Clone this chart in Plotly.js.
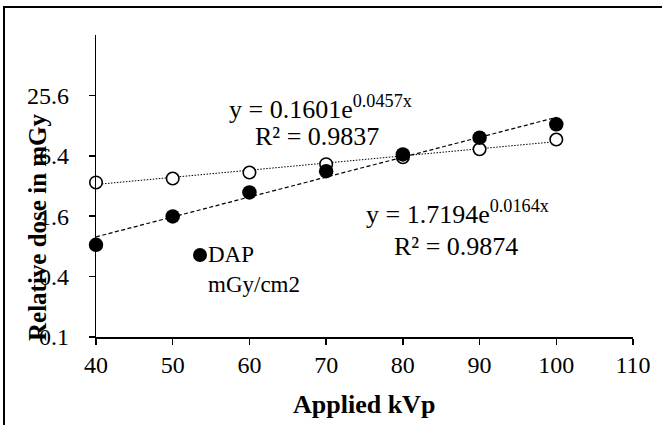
<!DOCTYPE html>
<html>
<head>
<meta charset="utf-8">
<script src="https://cdn.plot.ly/plotly-3.0.1.min.js"></script>
<style>
  html, body { margin: 0; padding: 0; background: #fff; overflow: hidden; }
  #frame { position: absolute; left: 3px; top: 6px; width: 720px; height: 480px;
           border-left: 2px solid #000; border-top: 2px solid #000; }
  #chart { position: absolute; left: 0; top: 0; width: 662px; height: 425px; }
</style>
</head>
<body>
<div id="frame"></div>
<div id="chart"></div>
<script>
// ---- data ----
const kvp = [40, 50, 60, 70, 80, 90, 100];
const dapValues = [0.83, 1.59, 2.76, 4.5, 6.6, 9.7, 13.2];      // filled circles
const otherValues = [3.47, 3.8, 4.36, 5.28, 6.2, 7.44, 9.3];    // open circles
const yTickVals = [0.1, 0.4, 1.6, 6.4, 25.6];
const yTickText = ['0.1', '0.4', '1.6', '6.4', '25.6'];
const xTickVals = [40, 50, 60, 70, 80, 90, 100, 110];
// exponential trendline coefficients printed on the chart: y = a * e^(b x)
const trendA = [0.1601, 1.7194];   // [DAP, open series]
const trendB = [0.0457, 0.0164];
const trendR2 = ['0.9837', '0.9874'];

const FONT = 'Liberation Serif, Times New Roman, serif';

function trendY(i) { return kvp.map(x => trendA[i] * Math.exp(trendB[i] * x)); }

const traces = [
  { x: kvp, y: trendY(1), mode: 'lines', showlegend: false, hoverinfo: 'skip',
    line: { color: '#000', width: 1, dash: '1.5px,1.5px' } },
  { x: kvp, y: trendY(0), mode: 'lines', showlegend: false, hoverinfo: 'skip',
    line: { color: '#000', width: 1.2, dash: '4px,2.5px' } },
  { x: kvp, y: otherValues, mode: 'markers', name: 'Series 2', showlegend: false,
    cliponaxis: false,
    marker: { symbol: 'circle', size: 12.5, color: '#fff', line: { color: '#000', width: 1.6 } } },
  // drawn on the overlaid (identical) y axis that carries the tick labels, so it sits on top
  { x: kvp, y: dapValues, yaxis: 'y2', mode: 'markers', name: 'DAP mGy/cm2', showlegend: false,
    cliponaxis: false,
    marker: { symbol: 'circle', size: 14.5, color: '#000', line: { width: 0 } } }
];

// plot area in pixels: left 10 .. right 633 (x axis domain starts at 96), top 35 .. bottom 337
const ML = 10, MR = 29, PW = 662 - ML - MR;
function px2x(px) { return (px - ML) / PW; }
function py2y(py) { return (337 - py) / 302; }

const eqFont = { family: FONT, size: 26, color: '#000' };
const legFont = { family: FONT, size: 23, color: '#000' };
const tickFont = { family: FONT, size: 24, color: '#000' };
const yRange = [Math.log10(0.1), Math.log10(102.4)];

const layout = {
  width: 662, height: 425,
  margin: { l: ML, r: MR, t: 35, b: 88 },
  paper_bgcolor: 'rgba(0,0,0,0)', plot_bgcolor: 'rgba(0,0,0,0)',
  showlegend: false,
  font: { family: FONT, size: 24, color: '#000' },
  xaxis: {
    domain: [px2x(96), 1],
    range: [40, 110], tickvals: xTickVals, showgrid: false, zeroline: false,
    showline: true, linecolor: '#000', linewidth: 1.5,
    ticks: 'outside', ticklen: 6, tickwidth: 1.5, tickcolor: '#000',
    tickfont: tickFont
  },
  yaxis: {
    type: 'log', range: yRange,
    tickvals: yTickVals, showticklabels: false, showgrid: false, zeroline: false,
    showline: true, linecolor: '#000', linewidth: 1.5,
    ticks: 'outside', ticklen: 6, tickwidth: 1.5, tickcolor: '#000'
  },
  // tick labels of the y axis, set further out from the axis line as in the reference
  yaxis2: {
    type: 'log', range: yRange, overlaying: 'y', anchor: 'free', position: px2x(69), side: 'left',
    tickvals: yTickVals, ticktext: yTickText, showgrid: false, zeroline: false,
    showline: false, ticks: '', tickfont: tickFont
  },
  annotations: [
    { xref: 'paper', yref: 'paper', x: px2x(320), y: py2y(107), xanchor: 'center', yanchor: 'middle',
      showarrow: false, font: eqFont,
      text: 'y = ' + trendA[0].toFixed(4) + 'e<sup>' + trendB[0].toFixed(4) + 'x</sup>' },
    { xref: 'paper', yref: 'paper', x: px2x(317), y: py2y(136), xanchor: 'center', yanchor: 'middle',
      showarrow: false, font: eqFont, text: 'R² = ' + trendR2[0] },
    { xref: 'paper', yref: 'paper', x: px2x(457), y: py2y(212), xanchor: 'center', yanchor: 'middle',
      showarrow: false, font: eqFont,
      text: 'y = ' + trendA[1].toFixed(4) + 'e<sup>' + trendB[1].toFixed(4) + 'x</sup>' },
    { xref: 'paper', yref: 'paper', x: px2x(456), y: py2y(246), xanchor: 'center', yanchor: 'middle',
      showarrow: false, font: eqFont, text: 'R² = ' + trendR2[1] },
    // legend text
    { xref: 'paper', yref: 'paper', x: px2x(206), y: py2y(255), xanchor: 'left', yanchor: 'middle',
      align: 'left', showarrow: false, font: legFont, text: 'DAP' },
    { xref: 'paper', yref: 'paper', x: px2x(206), y: py2y(284), xanchor: 'left', yanchor: 'middle',
      align: 'left', showarrow: false, font: legFont, text: 'mGy/cm2' },
    // axis titles
    { xref: 'paper', yref: 'paper', x: px2x(37), y: py2y(227), xanchor: 'center', yanchor: 'middle',
      textangle: -90, showarrow: false,
      font: { family: FONT, size: 25, color: '#000', weight: 'bold' },
      text: '<b>Relative dose in mGy</b>' },
    { xref: 'paper', yref: 'paper', x: px2x(363.5), y: py2y(404), xanchor: 'center', yanchor: 'middle',
      showarrow: false, font: { family: FONT, size: 26, color: '#000', weight: 'bold' },
      text: '<b>Applied kVp</b>' }
  ],
  shapes: [
    // legend marker
    { type: 'circle', xref: 'paper', yref: 'paper', xsizemode: 'pixel', ysizemode: 'pixel',
      xanchor: px2x(200), yanchor: py2y(255), x0: -7, x1: 7, y0: -7, y1: 7,
      fillcolor: '#000', line: { width: 0 } }
  ]
};

Plotly.newPlot('chart', traces, layout, { displayModeBar: false, staticPlot: true });
</script>
</body>
</html>
